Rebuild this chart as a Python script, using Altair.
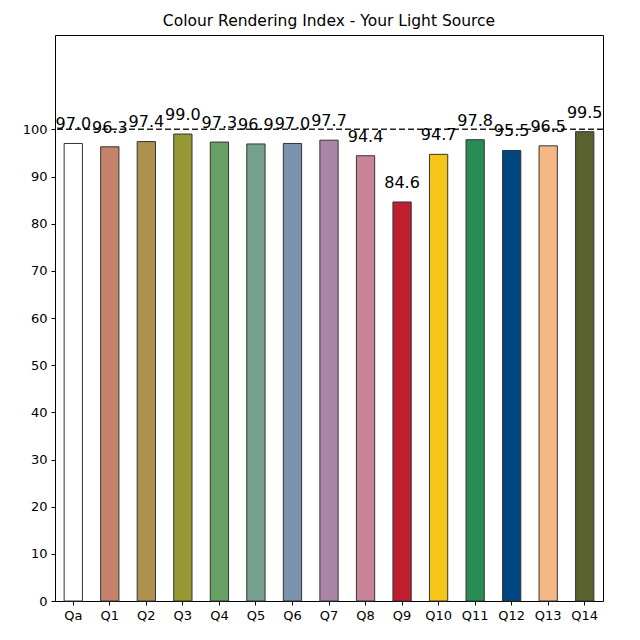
import altair as alt
import pandas as pd

categories = ["Qa", "Q1", "Q2", "Q3", "Q4", "Q5", "Q6", "Q7", "Q8", "Q9", "Q10", "Q11", "Q12", "Q13", "Q14"]
values = [97.0, 96.3, 97.4, 99.0, 97.3, 96.9, 97.0, 97.7, 94.4, 84.6, 94.7, 97.8, 95.5, 96.5, 99.5]
colors = ["#ffffff", "#c4836a", "#ae914f", "#979a34", "#67a063", "#74a08d", "#7b92ad", "#ab85a8",
          "#ca8497", "#be1e2d", "#f5c518", "#2a8c55", "#00477f", "#f5b884", "#5a6330"]
reference_value = 100

df = pd.DataFrame({"cat": categories, "val": values, "col": colors,
                   "label": [f"{v:.1f}" for v in values]})
df["labely"] = df["val"] + 3

xenc = alt.X("cat:N", sort=categories, title=None,
             scale=alt.Scale(paddingInner=0.5, paddingOuter=0.25),
             axis=alt.Axis(labelAngle=0, labelFont="DejaVu Sans", labelFontSize=13,
                           labelColor="black", tickColor="black", tickSize=4,
                           domain=False, labelPadding=4))
yscale = alt.Scale(domain=[0, 120], nice=False)

bars = alt.Chart(df).mark_bar(stroke="#333333", strokeWidth=1).encode(
    x=xenc,
    y=alt.Y("val:Q", scale=yscale, title=None,
            axis=alt.Axis(values=list(range(0, 101, 10)), grid=False, domain=False,
                          labelFont="DejaVu Sans", labelFontSize=13, labelColor="black",
                          tickColor="black", tickSize=4, labelPadding=4)),
    fill=alt.Fill("col:N", scale=None),
)

texts = alt.Chart(df).mark_text(font="DejaVu Sans", fontSize=16, baseline="alphabetic",
                                align="center", color="black").encode(
    x=alt.X("cat:N", sort=categories),
    y=alt.Y("labely:Q", scale=yscale),
    text="label:N",
)

rule = alt.Chart(pd.DataFrame({"y": [reference_value]})).mark_rule(
    color="#222222", strokeDash=[6, 3], strokeWidth=1.5).encode(y=alt.Y("y:Q", scale=yscale))

chart = alt.layer(bars, rule, texts).properties(
    width=548, height=566,
    background="white",
    title=alt.Title("Colour Rendering Index - Your Light Source", font="DejaVu Sans",
                    fontSize=15.5, fontWeight="normal", color="black", offset=6),
    autosize=alt.AutoSizeParams(type="none"),
    padding={"left": 47, "top": 27, "right": 10, "bottom": 30},
).configure_view(stroke="black", strokeWidth=1)

chart.save("out.html", embed_options={"renderer": "svg", "actions": False})
